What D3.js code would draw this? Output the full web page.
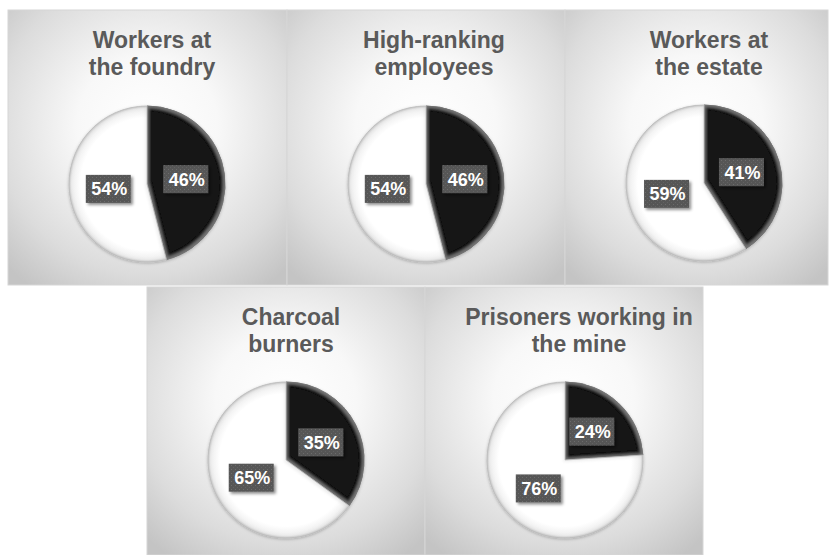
<!DOCTYPE html>
<html><head><meta charset="utf-8">
<script src="https://cdn.jsdelivr.net/npm/d3@7"></script>
<style>html,body{margin:0;padding:0;background:#fff;}svg{display:block;}</style>
</head><body>
<svg id="c" width="830" height="555"></svg>
<script>
// ---- data ----
const titles = [
  ["Workers at", "the foundry"],
  ["High-ranking", "employees"],
  ["Workers at", "the estate"],
  ["Charcoal", "burners"],
  ["Prisoners working in", "the mine"]
];
const darkShare = [46, 46, 41, 35, 24];
const lightShare = [54, 54, 59, 65, 76];

// ---- layout ----
const panels = [
  {x: 8,   y: 10,  w: 279, h: 275, cx: 147, cy: 184, tx: 152},
  {x: 287, y: 10,  w: 278, h: 275, cx: 426, cy: 184, tx: 434},
  {x: 565, y: 10,  w: 263, h: 275, cx: 704, cy: 183, tx: 709},
  {x: 147, y: 287, w: 278, h: 268, cx: 286, cy: 460, tx: 291},
  {x: 425, y: 287, w: 278, h: 268, cx: 565, cy: 460, tx: 579}
];
const R = 78;

const svg = d3.select("#c");
const defs = svg.append("defs");

const rg = defs.append("radialGradient").attr("id", "bg")
  .attr("cx", 0.5).attr("cy", 0.42).attr("r", 0.72);
rg.append("stop").attr("offset", 0).attr("stop-color", "#ffffff");
rg.append("stop").attr("offset", 0.35).attr("stop-color", "#f8f8f8");
rg.append("stop").attr("offset", 0.75).attr("stop-color", "#dcdcdc");
rg.append("stop").attr("offset", 1).attr("stop-color", "#c4c4c4");

const wg = defs.append("radialGradient").attr("id", "wg")
  .attr("gradientUnits", "userSpaceOnUse").attr("cx", 0).attr("cy", 0).attr("r", R);
wg.append("stop").attr("offset", 0).attr("stop-color", "#ffffff");
wg.append("stop").attr("offset", 0.85).attr("stop-color", "#ffffff");
wg.append("stop").attr("offset", 0.97).attr("stop-color", "#eeeeee");
wg.append("stop").attr("offset", 1).attr("stop-color", "#cfcfcf");

// dotted pattern for label boxes
const pat = defs.append("pattern").attr("id", "dots").attr("width", 4).attr("height", 4)
  .attr("patternUnits", "userSpaceOnUse");
pat.append("rect").attr("width", 4).attr("height", 4).attr("fill", "#575757");
pat.append("rect").attr("x", 1).attr("y", 1).attr("width", 1).attr("height", 1).attr("fill", "#6c6c6c");
pat.append("rect").attr("x", 3).attr("y", 3).attr("width", 1).attr("height", 1).attr("fill", "#626262");

function bevel(id, color, op) {
  const f = defs.append("filter").attr("id", id).attr("x", "-10%").attr("y", "-10%").attr("width", "120%").attr("height", "120%");
  f.append("feMorphology").attr("in", "SourceAlpha").attr("operator", "erode").attr("radius", 2).attr("result", "er");
  f.append("feGaussianBlur").attr("in", "er").attr("stdDeviation", 1.6).attr("result", "bl");
  f.append("feComposite").attr("in", "SourceAlpha").attr("in2", "bl").attr("operator", "out").attr("result", "rim");
  f.append("feFlood").attr("flood-color", color).attr("flood-opacity", op);
  f.append("feComposite").attr("in2", "rim").attr("operator", "in").attr("result", "rimc");
  const m = f.append("feMerge");
  m.append("feMergeNode").attr("in", "SourceGraphic");
  m.append("feMergeNode").attr("in", "rimc");
}
bevel("bevD", "#9a9a9a", 0.55);
bevel("bevW", "#9a9a9a", 0.25);

const sh = defs.append("filter").attr("id", "sh").attr("x", "-30%").attr("y", "-30%").attr("width", "160%").attr("height", "160%");
sh.append("feDropShadow").attr("dx", 2).attr("dy", 2).attr("stdDeviation", 1.5)
  .attr("flood-color", "#000").attr("flood-opacity", 0.45);
const psh = defs.append("filter").attr("id", "psh").attr("x", "-20%").attr("y", "-20%").attr("width", "140%").attr("height", "140%");
psh.append("feDropShadow").attr("dx", 0).attr("dy", 1).attr("stdDeviation", 1.5)
  .attr("flood-color", "#000").attr("flood-opacity", 0.25);

const pie = d3.pie().sort(null).value(d => d.v);
const arc = d3.arc().innerRadius(0).outerRadius(R);

panels.forEach((p, i) => {
  const g = svg.append("g");
  g.append("rect").attr("x", p.x).attr("y", p.y).attr("width", p.w).attr("height", p.h)
    .attr("fill", "url(#bg)").attr("stroke", "#d6d6d6").attr("stroke-width", 1);

  const t = g.append("text").attr("text-anchor", "middle")
    .attr("font-family", "Liberation Sans, Arial, Helvetica, sans-serif")
    .attr("font-weight", "bold").attr("font-size", 23).attr("fill", "#5a5a5a");
  titles[i].forEach((line, k) => {
    t.append("tspan").attr("x", p.tx).attr("y", p.y + 38 + k * 27).text(line);
  });

  const data = pie([{v: darkShare[i], dark: true}, {v: lightShare[i], dark: false}]);
  const pg = g.append("g").attr("transform", `translate(${p.cx},${p.cy})`).attr("filter", "url(#psh)");
  pg.selectAll("path").data(data).join("path")
    .attr("d", arc)
    .attr("fill", d => d.data.dark ? "#161616" : "url(#wg)")
    .attr("stroke", d => d.data.dark ? "#050505" : "#c4c4c4")
    .attr("stroke-width", 0.8)
    .attr("filter", d => d.data.dark ? "url(#bevD)" : "url(#bevW)");

  const lg = g.append("g").attr("transform", `translate(${p.cx},${p.cy})`);
  data.forEach(d => {
    const [lx, ly] = arc.centroid(d);
    const bw = 45, bh = 28;
    lg.append("rect").attr("x", lx - bw / 2).attr("y", ly - bh / 2).attr("width", bw).attr("height", bh)
      .attr("fill", "url(#dots)").attr("filter", "url(#sh)");
    lg.append("text").attr("x", lx + 1).attr("y", ly + 6.5).attr("text-anchor", "middle")
      .attr("font-family", "Liberation Sans, Arial, Helvetica, sans-serif")
      .attr("font-weight", "bold").attr("font-size", 18).attr("fill", "#ffffff")
      .text(d.data.v + "%");
  });
});
</script>
</body></html>
